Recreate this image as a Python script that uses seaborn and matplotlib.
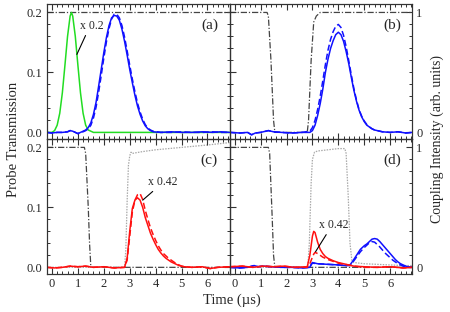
import numpy as np
import pandas as pd
import matplotlib
matplotlib.use("Agg")
import matplotlib.pyplot as plt
from matplotlib.ticker import MultipleLocator, FixedLocator
import seaborn as sns

sns.set_theme(style="ticks")
plt.rcParams['font.family'] = ['Liberation Serif', 'DejaVu Serif']
plt.rcParams['mathtext.fontset'] = 'stix'

# ---------------- data ----------------
# (a) probe transmission
a_green_t = [-0.2, 0.0, 0.1, 0.2, 0.3, 0.4, 0.5, 0.6, 0.7, 0.75, 0.8, 0.9, 1.0, 1.1, 1.2, 1.3, 1.4, 1.6, 2.0, 3.0, 4.0, 5.0, 6.0, 6.85]
a_green_v = [0.0, 0.0, 0.003, 0.012, 0.032, 0.066, 0.112, 0.16, 0.194, 0.2, 0.194, 0.16, 0.112, 0.066, 0.032, 0.012, 0.004, 0.0, 0.0, 0.0, 0.0, 0.0, 0.0, 0.0]

a_blue_t = [-0.2, 0.0, 0.2, 0.4, 0.6, 0.7, 0.8, 1.0, 1.1, 1.2, 1.3, 1.4, 1.5, 1.6, 1.7, 1.8, 1.9, 2.0, 2.1, 2.2, 2.3, 2.4,
            2.5, 2.6, 2.7, 2.8, 2.9, 3.0, 3.1, 3.2, 3.3, 3.4, 3.5, 3.6, 3.7, 3.8, 3.9, 4.2, 4.6, 5.0, 5.4, 5.8, 6.2, 6.5, 6.85]
a_blue_solid = [0.0, -0.001, 0.0, 0.0, 0.001, 0.003, 0.002, -0.002, 0.0, 0.002, 0.004, 0.008, 0.016, 0.03, 0.05, 0.077, 0.105, 0.133, 0.158, 0.178, 0.191, 0.195,
                0.194, 0.187, 0.172, 0.152, 0.129, 0.105, 0.083, 0.062, 0.044, 0.03, 0.019, 0.011, 0.006, 0.003, 0.001, 0.0, 0.001, 0.0, 0.0, 0.001, 0.0, 0.001, 0.0]
a_blue_dash = [0.0, -0.001, 0.0, 0.0, 0.001, 0.003, 0.002, -0.002, 0.0, 0.001, 0.003, 0.006, 0.012, 0.024, 0.042, 0.067, 0.095, 0.124, 0.151, 0.173, 0.189, 0.197,
               0.197, 0.191, 0.178, 0.159, 0.136, 0.112, 0.089, 0.068, 0.049, 0.034, 0.022, 0.013, 0.007, 0.004, 0.002, 0.0, 0.0, 0.001, 0.0, 0.0, 0.001, 0.0, 0.0]
a_coup_t = [-0.2, 6.85]
a_coup_v = [1.0, 1.0]

# (b)
b_blue_t = [-0.2, 0.2, 0.5, 0.65, 0.8, 1.0, 1.3, 1.5, 1.8, 2.2, 2.6, 2.9, 3.0, 3.1, 3.2, 3.3, 3.4, 3.5, 3.6, 3.7, 3.8, 3.9, 4.0,
            4.1, 4.2, 4.3, 4.4, 4.5, 4.6, 4.7, 4.8, 4.9, 5.0, 5.1, 5.2, 5.3, 5.4, 5.5, 5.7, 6.0, 6.3, 6.6, 6.85]
b_blue_solid = [0.0, -0.001, 0.0, -0.004, -0.001, 0.0, 0.003, 0.001, 0.0, -0.001, 0.0, 0.0, 0.003, 0.012, 0.028, 0.048, 0.072, 0.1, 0.122, 0.14, 0.153, 0.163, 0.167,
                0.163, 0.152, 0.135, 0.115, 0.092, 0.07, 0.052, 0.037, 0.026, 0.018, 0.012, 0.009, 0.006, 0.004, 0.003, 0.001, 0.0, 0.001, -0.001, 0.0]
b_blue_dash = [0.0, -0.001, 0.0, -0.004, -0.001, 0.0, 0.003, 0.001, 0.0, -0.001, 0.0, 0.002, 0.008, 0.02, 0.038, 0.06, 0.086, 0.113, 0.137, 0.155, 0.168, 0.177, 0.18,
               0.175, 0.162, 0.143, 0.12, 0.096, 0.073, 0.054, 0.038, 0.027, 0.019, 0.013, 0.009, 0.006, 0.004, 0.003, 0.001, 0.0, 0.001, -0.001, 0.0]
b_coup_t = [-0.2, 1.25, 1.3, 1.4, 1.5, 1.55, 2.8, 2.85, 2.95, 3.05, 3.15, 3.3, 6.85]
b_coup_v = [1.0, 1.0, 0.97, 0.6, 0.1, 0.0, 0.0, 0.1, 0.6, 0.92, 0.97, 1.0, 1.0]

# (c)
c_red_t = [-0.2, 0.1, 0.4, 0.7, 1.0, 1.3, 1.6, 2.0, 2.4, 2.8, 2.9, 3.0, 3.1, 3.2, 3.3, 3.4, 3.5, 3.6, 3.7, 3.8, 3.9, 4.0,
           4.1, 4.2, 4.3, 4.4, 4.5, 4.6, 4.7, 4.8, 4.9, 5.0, 5.1, 5.4, 5.8, 6.1, 6.4, 6.85]
c_red_solid = [0.0, -0.001, 0.0, 0.002, 0.001, 0.002, 0.0, 0.001, -0.001, 0.0, 0.015, 0.06, 0.098, 0.112, 0.116, 0.112, 0.1, 0.083, 0.07, 0.057, 0.047, 0.038,
               0.03, 0.024, 0.019, 0.015, 0.012, 0.009, 0.007, 0.005, 0.003, 0.002, 0.001, 0.0, 0.001, -0.002, 0.0, 0.001]
c_red_dash = [0.0, -0.001, 0.0, 0.002, 0.001, 0.002, 0.0, 0.001, -0.001, 0.0, 0.012, 0.052, 0.092, 0.112, 0.121, 0.123, 0.113, 0.095, 0.08, 0.066, 0.055, 0.045,
              0.036, 0.029, 0.023, 0.019, 0.015, 0.012, 0.009, 0.006, 0.004, 0.002, 0.001, 0.0, 0.001, -0.002, 0.0, 0.001]
c_coup1_t = [-0.2, 1.25, 1.3, 1.4, 1.45, 1.5, 6.85]
c_coup1_v = [1.0, 1.0, 0.95, 0.5, 0.2, 0.0, 0.0]
c_coup2_t = [-0.2, 2.8, 2.85, 2.9, 2.95, 3.0, 3.05, 3.1, 3.5, 4.0, 5.0, 6.0, 6.85]
c_coup2_v = [0.0, 0.0, 0.15, 0.55, 0.85, 0.93, 0.96, 0.95, 0.965, 0.98, 1.0, 1.02, 1.04]

# (d)
d_red_t = [-0.2, 0.3, 0.7, 1.1, 1.5, 1.9, 2.3, 2.8, 2.9, 3.0, 3.05, 3.1, 3.2, 3.3, 3.4, 3.5, 3.6, 3.8, 4.0, 4.2, 4.4, 4.6,
           5.0, 5.5, 6.0, 6.5, 6.85]
d_red_solid = [0.001, 0.002, 0.0, 0.002, 0.001, 0.002, 0.0, 0.001, 0.02, 0.052, 0.06, 0.058, 0.042, 0.03, 0.023, 0.018, 0.015, 0.011, 0.008, 0.006, 0.004, 0.002,
               0.001, 0.0, 0.001, -0.001, 0.0]
d_red_dash = [0.001, 0.002, 0.0, 0.002, 0.001, 0.002, 0.0, 0.0, 0.006, 0.017, 0.022, 0.025, 0.023, 0.02, 0.017, 0.015, 0.013, 0.01, 0.007, 0.005, 0.004, 0.002,
              0.0, 0.0, 0.001, -0.001, 0.0]
d_blue_t = [-0.2, 0.2, 0.5, 0.75, 0.9, 1.1, 1.4, 1.8, 2.2, 2.6, 2.9, 2.95, 3.0, 3.2, 3.6, 4.0, 4.3, 4.45, 4.55, 4.7, 4.85, 5.0,
            5.1, 5.2, 5.3, 5.4, 5.5, 5.6, 5.7, 5.8, 5.9, 6.0, 6.1, 6.2, 6.3, 6.4, 6.5, 6.6, 6.7, 6.85]
d_blue_solid = [0.0, -0.001, 0.0, 0.003, 0.001, 0.002, 0.001, 0.0, 0.0, -0.001, 0.0, 0.005, 0.008, 0.006, 0.005, 0.004, 0.003, 0.004, 0.01, 0.02, 0.03, 0.036,
                0.039, 0.043, 0.047, 0.048, 0.047, 0.043, 0.038, 0.033, 0.028, 0.023, 0.018, 0.013, 0.009, 0.006, 0.004, 0.002, 0.001, 0.0]
d_blue_dash = [0.0, -0.001, 0.0, 0.003, 0.001, 0.002, 0.001, 0.0, 0.0, -0.001, 0.0, 0.004, 0.007, 0.006, 0.005, 0.004, 0.003, 0.003, 0.008, 0.017, 0.026, 0.033,
               0.037, 0.041, 0.043, 0.042, 0.038, 0.034, 0.029, 0.024, 0.02, 0.016, 0.012, 0.009, 0.006, 0.004, 0.002, 0.001, 0.0, 0.0]
d_coup1_t = [-0.2, 1.3, 1.35, 1.45, 1.5, 1.55, 6.85]
d_coup1_v = [1.0, 1.0, 0.95, 0.4, 0.1, 0.0, 0.0]
d_coup2_t = [-0.2, 2.82, 2.88, 2.95, 3.0, 3.08, 3.2, 3.6, 4.0, 4.25, 4.3, 4.38, 4.45, 4.52, 4.6, 5.0, 5.5, 6.0, 6.5, 6.85]
d_coup2_v = [0.0, 0.0, 0.2, 0.7, 0.9, 0.96, 0.97, 0.98, 0.99, 0.99, 0.95, 0.6, 0.2, 0.06, 0.04, 0.03, 0.025, 0.02, 0.015, 0.015]

# ---------------- styles ----------------
BLUE = '#1010ff'
GREEN = '#22dd22'
RED = '#ff1010'
DARK = '#444444'
LIGHT = '#a8a8a8'
SOLID = '-'
DASH = (0, (4, 2))
DASHDOT = (0, (5, 1.5, 1, 1.5))
DOT = (0, (1.2, 1))

ylim = (-0.011, 0.214)
xlim = (-0.2, 6.85)


def line(ax, t, v, color, ls, lw=1.1):
    sns.lineplot(x=t, y=v, ax=ax, color=color, linestyle=ls, lw=lw,
                 estimator=None, sort=False, legend=False)


fig = plt.figure(figsize=(4.5, 3.12), dpi=100)
gs = fig.add_gridspec(2, 2, left=0.104, right=0.916, top=0.987, bottom=0.122,
                      hspace=0, wspace=0)
ax_a = fig.add_subplot(gs[0, 0])
ax_b = fig.add_subplot(gs[0, 1])
ax_c = fig.add_subplot(gs[1, 0])
ax_d = fig.add_subplot(gs[1, 1])

twins = {}
for key, ax in zip('abcd', [ax_a, ax_b, ax_c, ax_d]):
    tw = ax.twinx()
    tw.set_ylim(ylim[0] * 5, ylim[1] * 5)
    twins[key] = tw

# coupling (right axis)
line(twins['a'], a_coup_t, a_coup_v, DARK, DASHDOT, 0.9)
line(twins['b'], b_coup_t, b_coup_v, DARK, DASHDOT, 0.9)
line(twins['c'], c_coup1_t, c_coup1_v, DARK, DASHDOT, 0.9)
line(twins['c'], c_coup2_t, c_coup2_v, LIGHT, DOT, 0.9)
line(twins['d'], d_coup1_t, d_coup1_v, DARK, DASHDOT, 0.9)
line(twins['d'], d_coup2_t, d_coup2_v, LIGHT, DOT, 0.9)

# probe lines sit above coupling lines
for key in 'abcd':
    twins[key].set_zorder(0)
for ax in [ax_a, ax_b, ax_c, ax_d]:
    ax.set_zorder(1)
    ax.patch.set_visible(False)

line(ax_a, a_green_t, a_green_v, GREEN, SOLID)
line(ax_a, a_blue_t, a_blue_dash, BLUE, DASH)
line(ax_a, a_blue_t, a_blue_solid, BLUE, SOLID)
line(ax_b, b_blue_t, b_blue_dash, BLUE, DASH)
line(ax_b, b_blue_t, b_blue_solid, BLUE, SOLID)
line(ax_c, c_red_t, c_red_dash, RED, DASH)
line(ax_c, c_red_t, c_red_solid, RED, SOLID)
line(ax_d, d_blue_t, d_blue_dash, BLUE, DASH)
line(ax_d, d_blue_t, d_blue_solid, BLUE, SOLID)
line(ax_d, d_red_t, d_red_dash, RED, DASH)
line(ax_d, d_red_t, d_red_solid, RED, SOLID)

for key, ax in zip('abcd', [ax_a, ax_b, ax_c, ax_d]):
    tw = twins[key]
    ax.set_xlim(*xlim)
    ax.set_ylim(*ylim)
    ax.set_xlabel('')
    ax.set_ylabel('')
    tw.set_ylabel('')
    ax.xaxis.set_major_locator(MultipleLocator(1))
    ax.xaxis.set_minor_locator(MultipleLocator(0.2))
    ax.yaxis.set_major_locator(FixedLocator([0.0, 0.1, 0.2]))
    ax.yaxis.set_minor_locator(MultipleLocator(0.02))
    tw.yaxis.set_major_locator(FixedLocator([0, 1]))
    tw.yaxis.set_minor_locator(MultipleLocator(0.1))
    ax.tick_params(which='both', direction='in', top=True, right=False,
                   labelsize=9, pad=3, color='#333333')
    ax.tick_params(which='major', length=4, width=0.8)
    ax.tick_params(which='minor', length=2.5, width=0.7)
    tw.tick_params(which='both', direction='in', labelsize=9, pad=3, color='#333333')
    tw.tick_params(which='major', length=4, width=0.8)
    tw.tick_params(which='minor', length=2.5, width=0.7)
    ax.yaxis.set_major_formatter(matplotlib.ticker.FormatStrFormatter('%.1f'))
    for sp in list(ax.spines.values()) + list(tw.spines.values()):
        sp.set_linewidth(0.8)
        sp.set_color('#333333')
    if key in 'ab':
        ax.tick_params(labelbottom=False)
    if key in 'bd':
        ax.tick_params(labelleft=False)
    else:
        tw.tick_params(labelright=False)
    ax.text(0.89, 0.84, '(%s)' % key, transform=ax.transAxes, ha='center',
            va='center', fontsize=11)

arrow = dict(arrowstyle='-', lw=0.8, color='black', shrinkA=0, shrinkB=0,
             relpos=(0.3, 0.0))
ax_a.annotate('x 0.2', xy=(0.96, 0.13), xytext=(1.08, 0.177), fontsize=8.5,
              va='center', ha='left', arrowprops=arrow)
ax_c.annotate('x 0.42', xy=(3.5, 0.112), xytext=(3.69, 0.142), fontsize=8.5,
              va='center', ha='left', arrowprops=arrow)
ax_d.annotate('x 0.42', xy=(3.12, 0.026), xytext=(3.27, 0.07), fontsize=8.5,
              va='center', ha='left', arrowprops=arrow)

fig.text(0.03, 0.552, 'Probe Transmission', rotation=90, ha='center',
         va='center', fontsize=10.5)
fig.text(0.972, 0.555, 'Coupling Intensity (arb. units)', rotation=90,
         ha='center', va='center', fontsize=10)
fig.text(0.515, 0.038, 'Time (\u00b5s)', ha='center', va='center', fontsize=10.5)

plt.savefig('out.png', dpi=100)
plt.close()
